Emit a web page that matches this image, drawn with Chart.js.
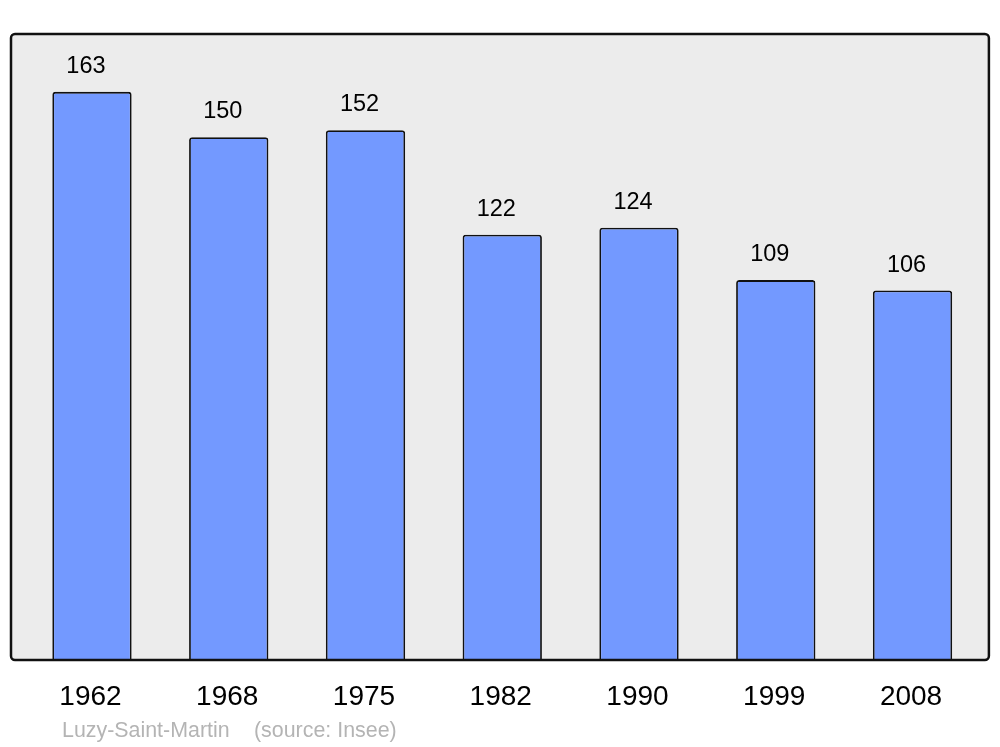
<!DOCTYPE html>
<html>
<head>
<meta charset="utf-8">
<script src="https://cdn.jsdelivr.net/npm/chart.js@4"></script>
<style>
  html, body { margin: 0; padding: 0; background: #fff; }
  #wrap { width: 1000px; height: 747px; }
</style>
</head>
<body>
<div id="wrap"><canvas id="popChart" width="1000" height="747"></canvas></div>
<script>
var years = ['1962', '1968', '1975', '1982', '1990', '1999', '2008'];
var population = [163, 150, 152, 122, 124, 109, 106];
var commune = 'Luzy-Saint-Martin';
var source = '(source: Insee)';

// gray frame behind the bars + value labels + year labels + footer
var decorPlugin = {
    id: 'decor',
    beforeDraw: function (chart) {
        var ctx = chart.ctx;
        var a = chart.chartArea;
        var x0 = a.left - 12.6, x1 = a.right + 8, y0 = a.top, y1 = a.bottom;
        ctx.save();
        ctx.beginPath();
        ctx.roundRect(x0, y0, x1 - x0, y1 - y0, 4);
        ctx.fillStyle = '#ececec';
        ctx.fill();
        ctx.restore();
    },
    afterDatasetsDraw: function (chart) {
        var ctx = chart.ctx;
        var a = chart.chartArea;
        var x0 = a.left - 12.6, x1 = a.right + 8, y0 = a.top, y1 = a.bottom;
        ctx.save();
        ctx.beginPath();
        ctx.roundRect(x0, y0, x1 - x0, y1 - y0, 4);
        ctx.lineWidth = 2.5;
        ctx.strokeStyle = '#111';
        ctx.stroke();

        var meta = chart.getDatasetMeta(0);
        ctx.fillStyle = '#000';
        ctx.textAlign = 'center';
        ctx.textBaseline = 'alphabetic';
        ctx.font = '23.5px "Liberation Sans", Arial, sans-serif';
        meta.data.forEach(function (bar, i) {
            ctx.fillText(population[i], bar.x - 6, bar.y - 19);
        });
        ctx.font = '28px "Liberation Sans", Arial, sans-serif';
        meta.data.forEach(function (bar, i) {
            ctx.fillText(years[i], bar.x - 1.5, y1 + 45);
        });
        ctx.textAlign = 'left';
        ctx.fillStyle = '#b4b4b4';
        ctx.font = '21.4px "Liberation Sans", Arial, sans-serif';
        ctx.fillText(commune, 62, y1 + 77);
        ctx.fillText(source, 254, y1 + 77);
        ctx.restore();
    }
};

var ctx = document.getElementById('popChart').getContext('2d');
new Chart(ctx, {
    type: 'bar',
    data: {
        labels: years,
        datasets: [{
            data: population,
            backgroundColor: '#7399ff',
            borderColor: '#111',
            borderWidth: 1.8,
            borderSkipped: 'bottom',
            borderRadius: {topLeft: 3, topRight: 3, bottomLeft: 0, bottomRight: 0},
            categoryPercentage: 1,
            barPercentage: 0.58
        }]
    },
    options: {
        responsive: false,
        animation: false,
        layout: {
            padding: {left: 23.6, right: 19.1, top: 34, bottom: 87}
        },
        scales: {
            x: {display: false, offset: true},
            y: {display: false, min: 0, max: 179.6}
        },
        plugins: {
            legend: {display: false},
            tooltip: {enabled: false}
        }
    },
    plugins: [decorPlugin]
});
</script>
</body>
</html>
